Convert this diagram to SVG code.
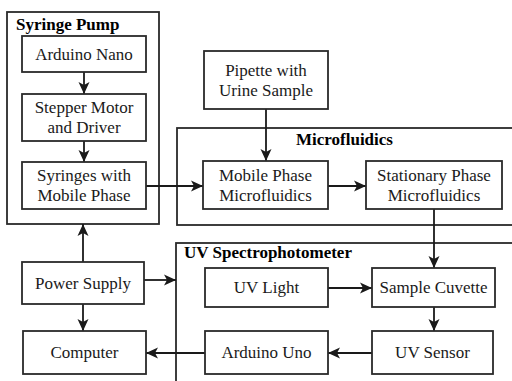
<svg xmlns="http://www.w3.org/2000/svg" width="512" height="381" viewBox="0 0 512 381">
<style>
.box{fill:#fff;stroke:#2a2a2a;stroke-width:1.8}
.grp{fill:none;stroke:#2a2a2a;stroke-width:1.8}
.t{font-family:'Liberation Serif',serif;font-size:17px;fill:#1a1a1a;text-anchor:middle}
.h{font-family:'Liberation Serif',serif;font-size:17px;font-weight:bold;fill:#000}
.c{fill:none;stroke:#1a1a1a;stroke-width:1.8;marker-end:url(#ah)}
</style>
<defs>
<marker id="ah" viewBox="0 0 12 12" refX="12" refY="6" markerWidth="12" markerHeight="12" markerUnits="userSpaceOnUse" orient="auto">
<path d="M0,0.5 L12,6 L0,11.5 L3,6 Z" fill="#1a1a1a"/>
</marker>
</defs>
<rect width="512" height="381" fill="#fff"/>
<g id="syringe-pump-group">
<rect class="grp" x="7" y="12" width="152" height="212"/>
<text class="h" x="16" y="30" style="font-family:'Liberation Serif',serif">Syringe Pump</text>
</g>
<g id="microfluidics-group">
<rect class="grp" x="177" y="128" width="345" height="97"/>
<text class="h" x="296" y="145" style="font-family:'Liberation Serif',serif">Microfluidics</text>
</g>
<g id="uv-group">
<rect class="grp" x="176" y="243" width="346" height="150"/>
<text class="h" x="184" y="258" style="font-family:'Liberation Serif',serif">UV Spectrophotometer</text>
</g>
<g id="connectors">
<line class="c" x1="84" y1="72" x2="84" y2="94"/>
<line class="c" x1="84" y1="141" x2="84" y2="162"/>
<line class="c" x1="146" y1="186" x2="203" y2="186"/>
<line class="c" x1="266" y1="109" x2="266" y2="161"/>
<line class="c" x1="328" y1="186" x2="366" y2="186"/>
<line class="c" x1="434" y1="209" x2="434" y2="268"/>
<line class="c" x1="328" y1="288" x2="372" y2="288"/>
<line class="c" x1="434" y1="307" x2="434" y2="331"/>
<line class="c" x1="372" y1="353" x2="328" y2="353"/>
<line class="c" x1="205" y1="353" x2="146" y2="353"/>
<line class="c" x1="83" y1="262" x2="83" y2="224"/>
<line class="c" x1="144" y1="280" x2="176" y2="280"/>
<line class="c" x1="83" y1="304" x2="83" y2="331"/>
</g>
<g id="arduino-nano">
<rect class="box" x="22" y="36" width="124" height="36"/>
<text class="t" x="84" y="60" style="font-family:'Liberation Serif',serif">Arduino Nano</text>
</g>
<g id="stepper-motor">
<rect class="box" x="22" y="94" width="124" height="47"/>
<text class="t" x="84" y="113" style="font-family:'Liberation Serif',serif">Stepper Motor</text>
<text class="t" x="84" y="133" style="font-family:'Liberation Serif',serif">and Driver</text>
</g>
<g id="syringes">
<rect class="box" x="22" y="162" width="124" height="47"/>
<text class="t" x="84" y="181" style="font-family:'Liberation Serif',serif">Syringes with</text>
<text class="t" x="84" y="201" style="font-family:'Liberation Serif',serif">Mobile Phase</text>
</g>
<g id="pipette">
<rect class="box" x="204" y="51" width="124" height="58"/>
<text class="t" x="266" y="76" style="font-family:'Liberation Serif',serif">Pipette with</text>
<text class="t" x="266" y="96" style="font-family:'Liberation Serif',serif">Urine Sample</text>
</g>
<g id="mobile-phase">
<rect class="box" x="203" y="161" width="125" height="48"/>
<text class="t" x="265.5" y="181" style="font-family:'Liberation Serif',serif">Mobile Phase</text>
<text class="t" x="265.5" y="201" style="font-family:'Liberation Serif',serif">Microfluidics</text>
</g>
<g id="stationary-phase">
<rect class="box" x="366" y="161" width="136" height="48"/>
<text class="t" x="434" y="181" style="font-family:'Liberation Serif',serif">Stationary Phase</text>
<text class="t" x="434" y="201" style="font-family:'Liberation Serif',serif">Microfluidics</text>
</g>
<g id="power-supply">
<rect class="box" x="22" y="262" width="122" height="42"/>
<text class="t" x="83" y="289" style="font-family:'Liberation Serif',serif">Power Supply</text>
</g>
<g id="computer">
<rect class="box" x="23" y="331" width="123" height="43"/>
<text class="t" x="84.5" y="358" style="font-family:'Liberation Serif',serif">Computer</text>
</g>
<g id="uv-light">
<rect class="box" x="205" y="268" width="123" height="39"/>
<text class="t" x="266.5" y="293" style="font-family:'Liberation Serif',serif">UV Light</text>
</g>
<g id="sample-cuvette">
<rect class="box" x="372" y="268" width="123" height="39"/>
<text class="t" x="433.5" y="293" style="font-family:'Liberation Serif',serif">Sample Cuvette</text>
</g>
<g id="arduino-uno">
<rect class="box" x="205" y="331" width="123" height="43"/>
<text class="t" x="266.5" y="358" style="font-family:'Liberation Serif',serif">Arduino Uno</text>
</g>
<g id="uv-sensor">
<rect class="box" x="372" y="331" width="121" height="43"/>
<text class="t" x="432.5" y="358" style="font-family:'Liberation Serif',serif">UV Sensor</text>
</g>
</svg>
